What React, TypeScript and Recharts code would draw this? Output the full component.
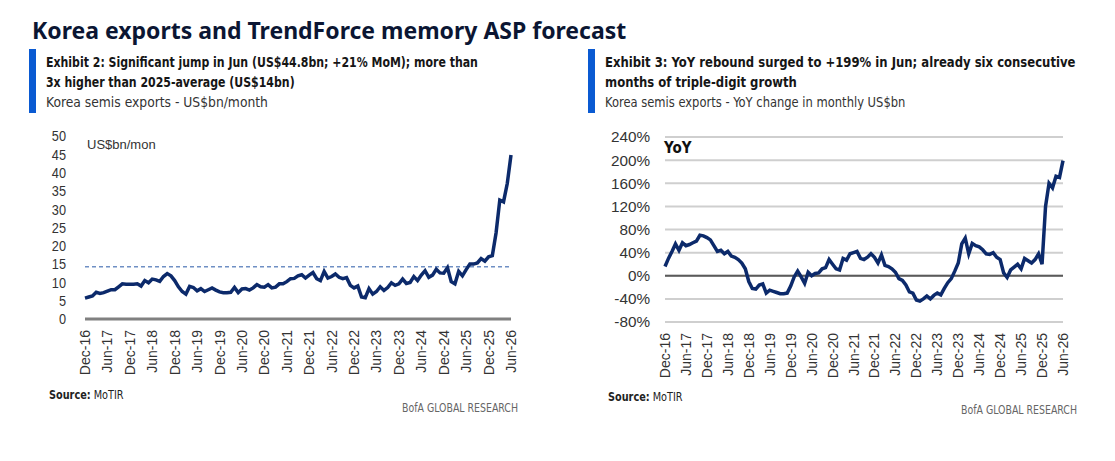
import React from 'react';
import {
  CartesianGrid,
  Line,
  LineChart,
  ReferenceLine,
  XAxis,
  YAxis,
} from 'recharts';

// Monthly, Dec-16 .. Jun-26
const months: string[] = (() => {
  const names = ['Jan', 'Feb', 'Mar', 'Apr', 'May', 'Jun', 'Jul', 'Aug', 'Sep', 'Oct', 'Nov', 'Dec'];
  const out: string[] = [];
  let m = 11;
  let y = 16;
  for (let i = 0; i < 115; i++) {
    out.push(`${names[m]}-${y}`);
    m += 1;
    if (m === 12) {
      m = 0;
      y += 1;
    }
  }
  return out;
})();

// Korea semis exports, US$bn/month
const exportsBn = [
  5.7, 6.0, 6.3, 7.3, 7.0, 7.2, 7.6, 8.0, 8.0, 8.8, 9.6, 9.5,
  9.5, 9.5, 9.6, 9.0, 10.5, 9.9, 10.9, 10.7, 10.3, 11.6, 12.4, 11.8,
  10.5, 8.8, 7.5, 6.8, 8.9, 8.6, 7.7, 8.3, 7.5, 8.0, 8.5, 7.9,
  7.4, 7.2, 7.2, 7.3, 8.6, 7.2, 8.2, 8.3, 7.9, 8.5, 9.4, 8.8,
  8.7, 9.4, 8.5, 8.7, 9.6, 9.6, 10.2, 11.0, 11.1, 11.8, 12.1, 11.2,
  12.0, 12.7, 11.0, 10.5, 13.0, 11.2, 11.6, 12.3, 11.4, 11.0, 11.3, 9.2,
  8.5, 9.0, 6.0, 5.8, 8.3, 6.8, 7.5, 8.8, 7.8, 8.6, 9.9, 9.2,
  9.6, 10.9, 9.7, 10.0, 11.6, 10.5, 12.0, 13.2, 11.4, 12.0, 13.6, 12.6,
  12.5, 14.0, 10.2, 9.6, 13.0, 11.8, 13.5, 15.0, 15.0, 15.3, 16.5, 15.8,
  17.0, 17.3, 23.5, 32.5, 32.0, 37.0, 44.8,
];

// YoY change, %
const yoyPct = [
  16, 30, 42, 55, 44, 57, 52, 54, 57, 60, 70, 69,
  66, 62, 52, 42, 44, 38, 42, 34, 32, 28, 22, 12,
  -10, -22, -23, -16, -14, -30, -25, -27, -29, -31, -31, -30,
  -18, -2, 8, -2, -13, 6, 0, 4, 5, 12, 14, 28,
  20, 12, 10, 30, 27, 38, 40, 42, 30, 28, 32, 38,
  32, 22, 36, 18, 16, 12, 6, -5, -8, -16, -28, -30,
  -42, -44, -40, -35, -40, -34, -30, -33, -22, -12, -5, 8,
  22, 55, 65, 38, 56, 52, 50, 45, 38, 37, 40, 32,
  28, 5, -3, 10, 15, 20, 12, 30, 26, 22, 28, 38,
  20, 120, 160, 152, 172, 170, 199,
];

const avg2025 = 14.3;
const leftTicks = [0, 5, 10, 15, 20, 25, 30, 35, 40, 45, 50];
const rightTicks = [-80, -40, 0, 40, 80, 120, 160, 200, 240];

const exportsData = months.map((month, i) => ({ month, value: exportsBn[i] }));
const yoyData = months.map((month, i) => ({ month, value: yoyPct[i] }));

const SANS = '"Liberation Sans", Arial, sans-serif';
const COND = '"DejaVu Sans Condensed", "Liberation Sans", sans-serif';
const NAVY = '#0c2a6b';

function RotatedTick(props: any) {
  const { x, y, payload } = props;
  return (
    <text
      x={x}
      y={y + 3}
      transform={`rotate(-90 ${x} ${y + 3})`}
      textAnchor="end"
      dominantBaseline="central"
      fontFamily={SANS}
      fontSize={14}
      fill="#333"
    >
      {payload.value}
    </text>
  );
}

// y tick, squeezed horizontally to a narrow face
function ValueTick(props: any) {
  const { x, y, payload, suffix = '', k = 0.85 } = props;
  return (
    <text
      transform={`translate(${x},${y}) scale(${k},1)`}
      textAnchor="end"
      dominantBaseline="central"
      fontFamily={SANS}
      fontSize={15}
      fill="#333"
    >
      {`${payload.value}${suffix}`}
    </text>
  );
}

function Squeeze({ k, children, style }: { k: number; children: React.ReactNode; style?: React.CSSProperties }) {
  return (
    <div style={{ transform: `scaleX(${k})`, transformOrigin: 'left center', whiteSpace: 'nowrap', ...style }}>
      {children}
    </div>
  );
}

function Heading({
  left,
  lines,
  sub,
  kBold,
  kSub,
}: {
  left: number;
  lines: string[];
  sub: string;
  kBold: number;
  kSub: number;
}) {
  return (
    <div style={{ position: 'absolute', left, top: 49 }}>
      <div style={{ position: 'absolute', left: 0, top: 0, width: 7, height: 64, background: '#0a5ad2' }} />
      <div style={{ position: 'absolute', left: 17, top: 3, width: 520 }}>
        {lines.map((l) => (
          <Squeeze key={l} k={kBold} style={{ fontFamily: COND, fontSize: 14, fontWeight: 700, color: '#161616', lineHeight: '20px' }}>
            {l}
          </Squeeze>
        ))}
        <Squeeze k={kSub} style={{ fontFamily: COND, fontSize: 14, color: '#333', lineHeight: '20px' }}>
          {sub}
        </Squeeze>
      </div>
    </div>
  );
}

function Footer({ left, right, top }: { left: number; right: number; top: number }) {
  return (
    <>
      <div style={{ position: 'absolute', left, top, width: 200 }}>
        <Squeeze k={0.9} style={{ fontFamily: COND, fontSize: 12, color: '#222' }}>
          <b>Source:</b> MoTIR
        </Squeeze>
      </div>
      <div style={{ position: 'absolute', left: right - 200, width: 200, top: top + 13 }}>
        <div
          style={{
            transform: 'scaleX(0.87)',
            transformOrigin: 'right center',
            textAlign: 'right',
            fontFamily: COND,
            fontSize: 12,
            color: '#666',
            whiteSpace: 'nowrap',
          }}
        >
          BofA GLOBAL RESEARCH
        </div>
      </div>
    </>
  );
}

export default function App() {
  return (
    <div
      style={{
        position: 'absolute',
        left: 0,
        top: 0,
        width: 1115,
        height: 461,
        background: '#fff',
        overflow: 'hidden',
      }}
    >
      <div
        style={{
          position: 'absolute',
          left: 32,
          top: 14,
          fontFamily: '"Noto Sans", "Open Sans", sans-serif',
          fontWeight: 700,
          fontSize: 23,
          color: '#0b1633',
          whiteSpace: 'nowrap',
        }}
      >
        Korea exports and TrendForce memory ASP forecast
      </div>

      <Heading
        left={29}
        kBold={0.87}
        kSub={0.98}
        lines={[
          'Exhibit 2: Significant jump in Jun (US$44.8bn; +21% MoM); more than',
          '3x higher than 2025-average (US$14bn)',
        ]}
        sub="Korea semis exports - US$bn/month"
      />
      <Heading
        left={588}
        kBold={0.925}
        kSub={0.915}
        lines={[
          'Exhibit 3: YoY rebound surged to +199% in Jun; already six consecutive',
          'months of triple-digit growth',
        ]}
        sub="Korea semis exports - YoY change in monthly US$bn"
      />

      {/* Exports level */}
      <div style={{ position: 'absolute', left: 0, top: 0 }}>
        <LineChart
          width={530}
          height={390}
          data={exportsData}
          margin={{ top: 136, right: 19, left: 45, bottom: 11 }}
        >
          <XAxis
            dataKey="month"
            interval={5}
            height={60}
            tick={<RotatedTick />}
            tickLine={false}
            axisLine={{ stroke: '#808080', strokeWidth: 3 }}
          />
          <YAxis
            width={40}
            domain={[0, 50]}
            ticks={leftTicks}
            interval={0}
            tickLine={false}
            axisLine={false}
            tickMargin={13}
            tick={<ValueTick k={0.85} />}
          />
          <ReferenceLine y={avg2025} stroke="#6f8fc4" strokeWidth={1.5} strokeDasharray="4 3" />
          <Line
            type="linear"
            dataKey="value"
            stroke={NAVY}
            strokeWidth={3.5}
            dot={false}
            isAnimationActive={false}
          />
        </LineChart>
      </div>
      <div
        style={{
          position: 'absolute',
          left: 87,
          top: 137,
          fontFamily: SANS,
          fontSize: 13,
          color: '#333',
        }}
      >
        US$bn/mon
      </div>

      {/* YoY change */}
      <div style={{ position: 'absolute', left: 560, top: 0 }}>
        <LineChart
          width={520}
          height={390}
          data={yoyData}
          margin={{ top: 137, right: 17, left: 60, bottom: 8 }}
        >
          <CartesianGrid vertical={false} stroke="#cfcfcf" strokeWidth={2} />
          <XAxis
            dataKey="month"
            interval={5}
            height={60}
            tick={<RotatedTick />}
            tickLine={false}
            axisLine={false}
          />
          <YAxis
            width={45}
            domain={[-80, 240]}
            ticks={rightTicks}
            interval={0}
            tickLine={false}
            axisLine={false}
            tickMargin={9}
            tick={<ValueTick suffix="%" k={1.02} />}
          />
          <ReferenceLine y={0} stroke="#5a5a5a" strokeWidth={2} />
          <Line
            type="linear"
            dataKey="value"
            stroke={NAVY}
            strokeWidth={3.5}
            dot={false}
            isAnimationActive={false}
          />
        </LineChart>
      </div>
      <div
        style={{
          position: 'absolute',
          left: 664,
          top: 139,
          fontFamily: COND,
          fontWeight: 700,
          fontSize: 15,
          color: '#111',
        }}
      >
        YoY
      </div>

      <Footer left={49} right={518} top={388} />
      <Footer left={608} right={1077} top={390} />
    </div>
  );
}
